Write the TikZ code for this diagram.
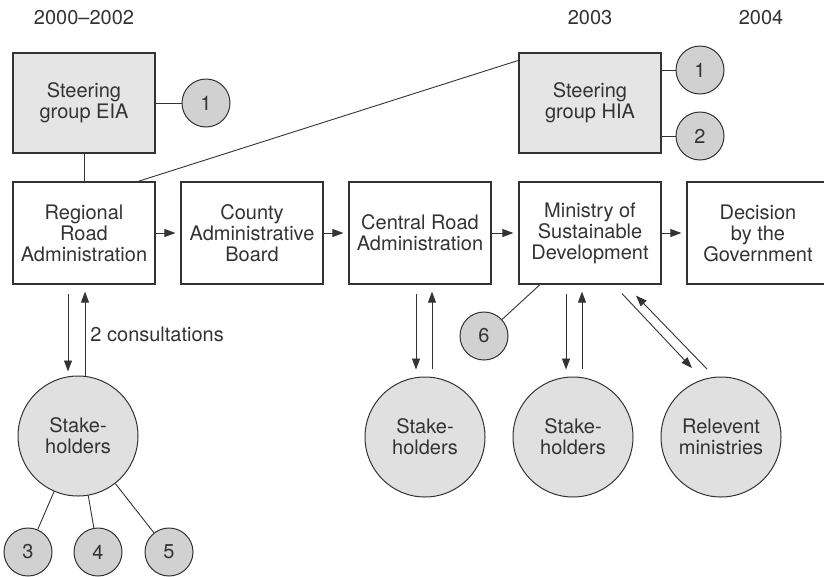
\documentclass[tikz,border=0pt]{standalone}
\usepackage{fontspec}
\setmainfont{TeX Gyre Heros}
\usetikzlibrary{arrows.meta}
\definecolor{ink}{gray}{0.2}
\definecolor{boxgray}{gray}{0.9}
\definecolor{dotgray}{gray}{0.82}
\definecolor{ringgray}{gray}{0.88}
\begin{document}
\begin{tikzpicture}[x=1pt,y=-1pt,
  every node/.style={font=\fontsize{20}{21}\selectfont, text=ink},
  box/.style={draw=ink, line width=1.2pt, minimum width=142pt, minimum height=102pt, align=center, inner sep=0pt},
  sgbox/.style={box, fill=boxgray, minimum height=100pt},
  num/.style={circle, draw=ink, line width=1pt, fill=dotgray, minimum size=48pt, inner sep=0pt},
  group/.style={circle, draw=ink, line width=1pt, fill=ringgray, minimum size=120pt, align=center, inner sep=0pt},
  link/.style={draw=ink, line width=0.9pt},
  arr/.style={link, -{Triangle[length=11pt,width=8pt]}}]
\useasboundingbox (0,0) rectangle (824,576);
% years
\node (yr0) at (84,18) {2000–2002};
\node (yr3) at (590,18) {2003};
\node (yr4) at (761,18) {2004};
% steering groups
\node[sgbox] (eia) at (84,103) {Steering\\group EIA};
\node[sgbox] (hia) at (590,103) {Steering\\group HIA};
\node[num] (c1) at (206,103) {1};
\node[num] (h1) at (700,70) {1};
\node[num] (h2) at (700,136) {2};
% main chain
\node[box] (reg) at (84,233) {Regional\\Road\\Administration};
\node[box] (cab) at (252,233) {County\\Administrative\\Board};
\node[box] (cra) at (420,233) {Central Road\\Administration};
\node[box] (msd) at (590,233) {Ministry of\\Sustainable\\Development};
\node[box] (dec) at (758,233) {Decision\\by the\\Government};
% consulted groups
\node[group] (s1) at (78,436) {Stake-\\holders};
\node[group] (s2) at (425,437) {Stake-\\holders};
\node[group] (s3) at (573,437) {Stake-\\holders};
\node[group] (rm) at (721,437) {Relevent\\ministries};
\node[num] (c3) at (28,552) {3};
\node[num] (c4) at (98,552) {4};
\node[num] (c5) at (169,552) {5};
\node[num] (c6) at (484,336) {6};
% links of the steering groups
\draw[link] (eia) -- (c1);
\draw[link] (eia) -- (reg);
\draw[link] ([xshift=54pt]reg.north) -- ([yshift=-8pt]hia.north west);
\draw[link] (h1 -| hia.east) -- (h1);
\draw[link] (h2 -| hia.east) -- (h2);
% flow of the case
\foreach \a/\b in {reg/cab, cab/cra, cra/msd, msd/dec}
  \draw[arr, shorten >=5pt] (\a) -- (\b);
% consultations
\draw[arr] ([xshift=-16pt,yshift=-9pt]reg.south) -- ([xshift=-10pt,yshift=4pt]s1.north);
\draw[arr] ([xshift=7pt,yshift=-1pt]s1.north) -- ([xshift=1pt,yshift=-7pt]reg.south)
  node[midway, right, inner sep=5pt] {2 consultations};
\foreach \n in {c3,c4,c5}
  \draw[link] (s1) -- (\n);
\draw[arr] ([xshift=-4pt,yshift=-9pt]cra.south) -- ([xshift=-9pt,yshift=7pt]s2.north);
\draw[arr] ([xshift=7pt,yshift=8pt]s2.north) -- ([xshift=12pt,yshift=-7pt]cra.south);
\draw[arr] ([xshift=-24pt,yshift=-9pt]msd.south) -- ([xshift=-7pt,yshift=7pt]s3.north);
\draw[arr] ([xshift=9pt,yshift=8pt]s3.north) -- ([xshift=-8pt,yshift=-7pt]msd.south);
\draw[arr] ([xshift=32pt,yshift=-9pt]msd.south) -- ([xshift=-29pt,yshift=69pt]rm.center);
\draw[arr] ([xshift=-14pt,yshift=68pt]rm.center) -- ([xshift=46pt,yshift=-11pt]msd.south);
\draw[link] (c6) -- ([xshift=-50pt]msd.south);
\end{tikzpicture}
\end{document}
